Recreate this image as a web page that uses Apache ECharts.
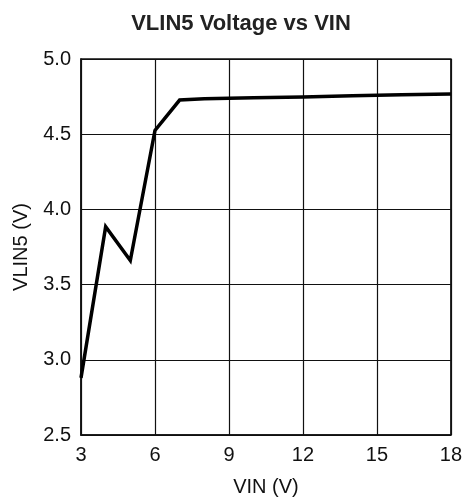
<!DOCTYPE html>
<html><head><meta charset="utf-8">
<script src="https://cdn.jsdelivr.net/npm/echarts@6/dist/echarts.min.js"></script>
<style>html,body{margin:0;padding:0;background:#fff}#c{width:465px;height:502px}</style>
</head><body><div id="c"></div>
<script>
var vin = [3, 4, 5, 6, 7, 8, 10, 12, 14, 16, 18];
var vlin5 = [2.88, 3.885, 3.66, 4.525, 4.727, 4.735, 4.742, 4.748, 4.755, 4.762, 4.768];
var xTicks = [3, 6, 9, 12, 15, 18];
var yTicks = [2.5, 3.0, 3.5, 4.0, 4.5, 5.0];
var font = '"Liberation Sans", Arial, sans-serif';
var chart = echarts.init(document.getElementById('c'), null, {renderer: 'canvas'});
chart.setOption({
  animation: false,
  backgroundColor: '#fff',
  title: {
    text: 'VLIN5 Voltage vs VIN', left: 236, top: 8, textAlign: 'center',
    textStyle: {fontFamily: font, fontSize: 22, fontWeight: 'bold', color: '#222'}
  },
  grid: {left: 81, right: 13, top: 59, bottom: 64, show: true, borderColor: '#111', borderWidth: 1.5},
  xAxis: {
    type: 'value', min: 3, max: 18, interval: 3,
    name: 'VIN (V)', nameLocation: 'middle', nameGap: 42,
    nameTextStyle: {fontFamily: font, fontSize: 20, color: '#111'},
    axisLine: {show: true, lineStyle: {color: '#111', width: 1.5}},
    axisTick: {show: false},
    axisLabel: {fontFamily: font, fontSize: 20, color: '#111', margin: 10,
      formatter: function (v) { return xTicks.indexOf(v) >= 0 ? String(v) : ''; }},
    splitLine: {show: true, lineStyle: {color: '#111', width: 1.2}}
  },
  yAxis: {
    type: 'value', min: 2.5, max: 5.0, interval: 0.5,
    name: 'VLIN5 (V)', nameLocation: 'middle', nameGap: 50,
    nameTextStyle: {fontFamily: font, fontSize: 20, color: '#111'},
    axisLine: {show: true, lineStyle: {color: '#111', width: 1.5}},
    axisTick: {show: false},
    axisLabel: {fontFamily: font, fontSize: 20, color: '#111', margin: 10,
      formatter: function (v) { return v.toFixed(1); }},
    splitLine: {show: true, lineStyle: {color: '#111', width: 1.2}}
  },
  series: [{
    type: 'line', data: vin.map(function (x, i) { return [x, vlin5[i]]; }),
    showSymbol: false, symbol: 'none',
    lineStyle: {color: '#000', width: 3.5, join: 'miter'}
  }]
});
</script></body></html>
